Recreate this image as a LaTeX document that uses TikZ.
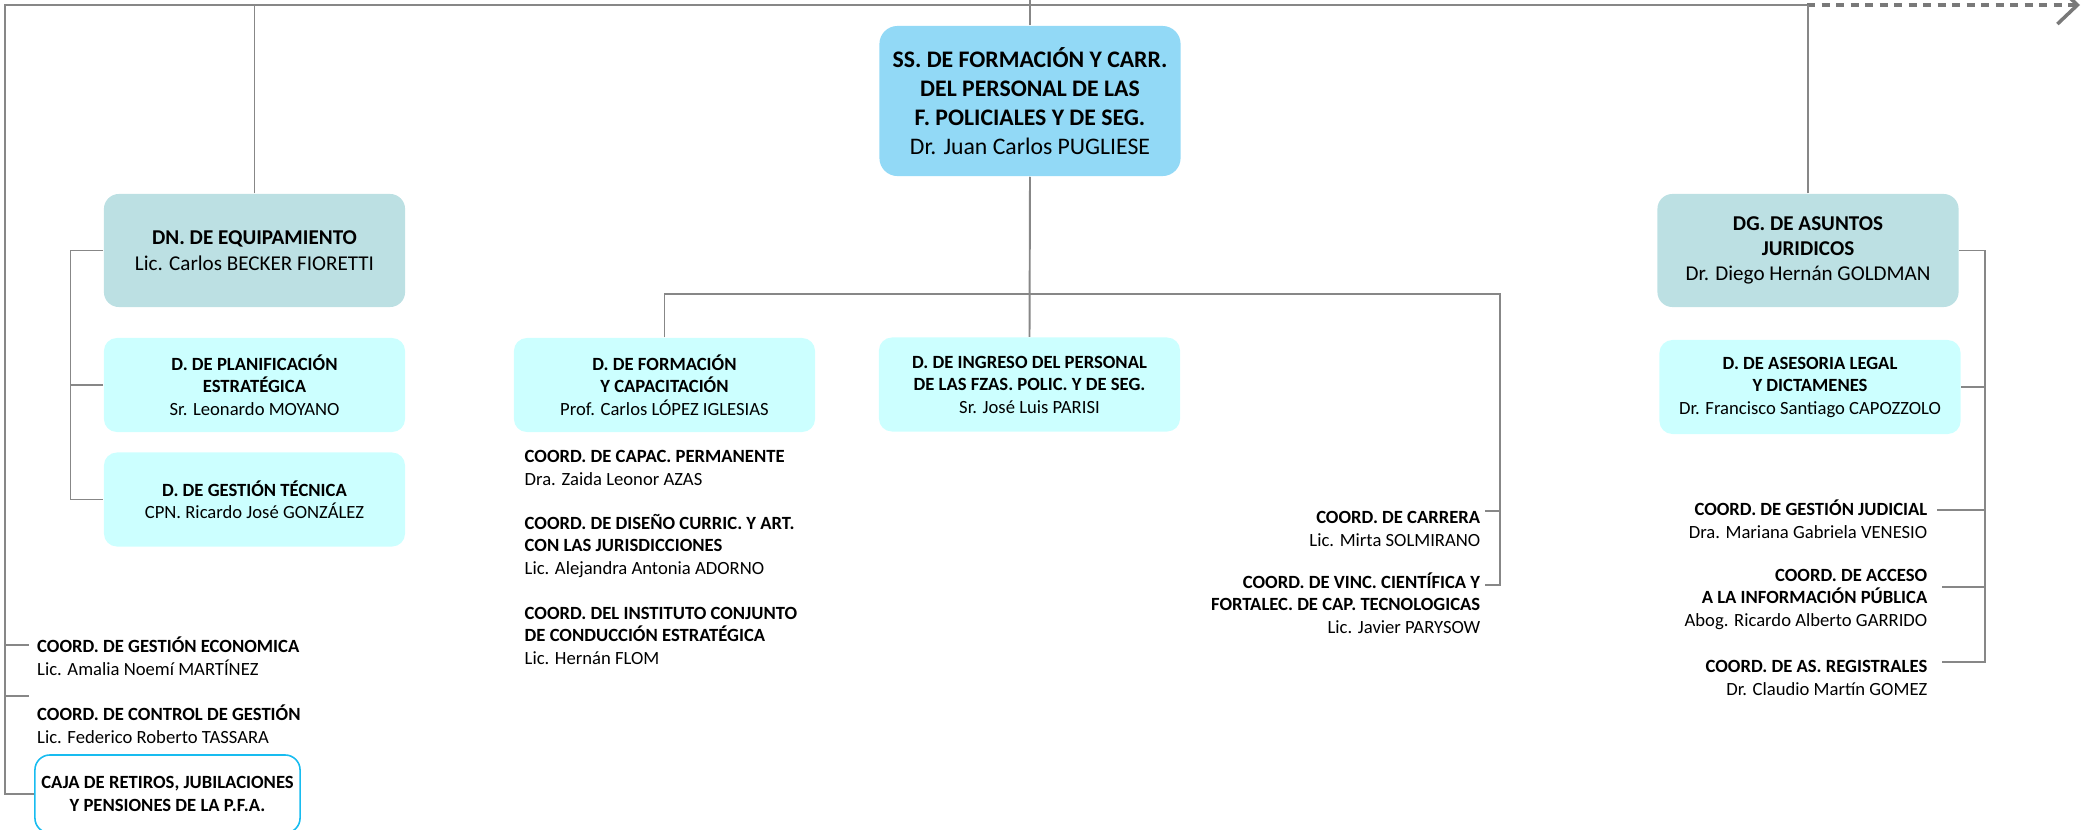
\documentclass[tikz,border=0pt]{standalone}
\usepackage{fontspec}
\setmainfont{Carlito}
\usepackage{tikz}
\usetikzlibrary{arrows.meta, calc}

\definecolor{sscol}{RGB}{146,217,246}
\definecolor{dircol}{RGB}{188,224,227}
\definecolor{subcol}{RGB}{204,255,255}
\definecolor{cajacol}{RGB}{24,188,240}
\definecolor{linecol}{RGB}{135,135,135}

\begin{document}
\begin{tikzpicture}[x=0.01cm, y=-0.01cm,
  ssbox/.style={rectangle, fill=sscol, rounded corners=0.18cm, align=center, minimum width=3.01cm, minimum height=1.5cm, font=\fontsize{6.75}{8.25}\selectfont},
  dirbox/.style={rectangle, fill=dircol, rounded corners=0.15cm, align=center, minimum width=3.01cm, minimum height=1.13cm, font=\fontsize{6}{7.2}\selectfont},
  subbox/.style={rectangle, fill=subcol, rounded corners=0.13cm, align=center, minimum width=3.01cm, minimum height=0.94cm, font=\fontsize{5.3}{6.4}\selectfont},
  cajabox/.style={rectangle, draw=cajacol, line width=0.45pt, rounded corners=0.15cm, align=center, minimum width=2.65cm, minimum height=0.78cm, inner xsep=0pt, font=\fontsize{5.3}{6.4}\selectfont},
  coordl/.style={inner sep=0pt, align=left, anchor=mid west, font=\fontsize{5.3}{6.4}\selectfont},
  coordr/.style={inner sep=0pt, align=right, anchor=mid east, font=\fontsize{5.3}{6.4}\selectfont},
  conn/.style={draw=linecol, line width=0.55pt},
  farr/.style={draw=linecol!90!black, line width=1pt, dash pattern=on 0.08cm off 0.065cm, -{Straight Barb[length=0.2cm, width=0.38cm]}},
]
\useasboundingbox (0,0) rectangle (2081,830);

\node[ssbox] (ss) at (1030,101) {\textbf{SS. DE FORMACIÓN Y CARR.}\\\textbf{DEL PERSONAL DE LAS}\\\textbf{F. POLICIALES Y DE SEG.}\\Dr. Juan Carlos PUGLIESE};

\node[dirbox] (dn) at (254.5,250.5) {\textbf{DN. DE EQUIPAMIENTO}\\Lic. Carlos BECKER FIORETTI};
\node[dirbox] (dg) at (1808,250.5) {\textbf{DG. DE ASUNTOS}\\\textbf{JURIDICOS}\\Dr. Diego Hernán GOLDMAN};

\node[subbox] (plan) at (254.5,385) {\textbf{D. DE PLANIFICACIÓN}\\\textbf{ESTRATÉGICA}\\Sr. Leonardo MOYANO};
\node[subbox] (gtec) at (254.5,499.5) {\textbf{D. DE GESTIÓN TÉCNICA}\\CPN. Ricardo José GONZÁLEZ};
\node[subbox] (form) at (664.5,385) {\textbf{D. DE FORMACIÓN}\\\textbf{Y CAPACITACIÓN}\\Prof. Carlos LÓPEZ IGLESIAS};
\node[subbox] (ingr) at (1029.5,384.5) {\textbf{D. DE INGRESO DEL PERSONAL}\\\textbf{DE LAS FZAS. POLIC. Y DE SEG.}\\Sr. José Luis PARISI};
\node[subbox] (ases) at (1810,387) {\textbf{D. DE ASESORIA LEGAL}\\\textbf{Y DICTAMENES}\\Dr. Francisco Santiago CAPOZZOLO};
\node[cajabox] (caja) at (167.5,794) {\textbf{CAJA DE RETIROS, JUBILACIONES}\\\textbf{Y PENSIONES DE LA P.F.A.}};

\node[coordl] (econ) at (36.5,667) {\textbf{COORD. DE GESTIÓN ECONOMICA}\\Lic. Amalia Noemí MARTÍNEZ};
\node[coordl] (ctrl) at (36.5,735) {\textbf{COORD. DE CONTROL DE GESTIÓN}\\Lic. Federico Roberto TASSARA};
\node[coordl] (capac) at (524,477) {\textbf{COORD. DE CAPAC. PERMANENTE}\\Dra. Zaida Leonor AZAS};
\node[coordl] (disen) at (524,566) {\textbf{COORD. DE DISEÑO CURRIC. Y ART.}\\\textbf{CON LAS JURISDICCIONES}\\Lic. Alejandra Antonia ADORNO};
\node[coordl] (inst) at (524,656) {\textbf{COORD. DEL INSTITUTO CONJUNTO}\\\textbf{DE CONDUCCIÓN ESTRATÉGICA}\\Lic. Hernán FLOM};
\node[coordr] (carr) at (1481,538) {\textbf{COORD. DE CARRERA}\\Lic. Mirta SOLMIRANO};
\node[coordr] (vinc) at (1481,625) {\textbf{COORD. DE VINC. CIENTÍFICA Y}\\\textbf{FORTALEC. DE CAP. TECNOLOGICAS}\\Lic. Javier PARYSOW};
\node[coordr] (jud) at (1928,530) {\textbf{COORD. DE GESTIÓN JUDICIAL}\\Dra. Mariana Gabriela VENESIO};
\node[coordr] (acc) at (1928,618) {\textbf{COORD. DE ACCESO}\\\textbf{A LA INFORMACIÓN PÚBLICA}\\Abog. Ricardo Alberto GARRIDO};
\node[coordr] (reg) at (1928,687) {\textbf{COORD. DE AS. REGISTRALES}\\Dr. Claudio Martín GOMEZ};

\coordinate (edge) at (0,0);
\coordinate (lrail) at (5,5);
\coordinate (fork) at (1807,5);
\coordinate (far) at (2080,5);
\coordinate (dnrail) at (70.5,0);
\coordinate (midrail) at (1500,294);
\coordinate (dgrail) at (1985,0);

\draw[conn] (caja.west) -| (lrail) -- (fork);
\draw[farr] (fork) -- (far);
\draw[conn] (ss.north) -- (ss.north |- edge);
\draw[conn] (dn.north) -- (dn.north |- lrail);
\draw[conn] (dg.north) -- (dg.north |- lrail);
\draw[conn] (ss.south) -- (ingr.north);
\draw[conn] (form.north) |- (midrail) |- ($(vinc.mid east)+(4,-40)$);
\draw[conn] ($(carr.mid east)+(4,-27)$) -- ($(carr.mid east -| midrail)+(0,-27)$);

\draw[conn] (dn.west) -| (gtec.west -| dnrail) -- (gtec.west);
\draw[conn] (plan.west) -- (plan.west -| dnrail);
\draw[conn] ($(econ.mid west)+(-8,-22)$) -- ($(econ.mid west -| lrail)+(0,-22)$);
\draw[conn] ($(ctrl.mid west)+(-8,-39)$) -- ($(ctrl.mid west -| lrail)+(0,-39)$);

\draw[conn] (dg.east) -| ($(reg.mid east -| dgrail)+(0,-25)$) -- ($(reg.mid east)+(14,-25)$);
\draw[conn] (ases.east) -- (ases.east -| dgrail);
\draw[conn] ($(jud.mid east)+(9,-20)$) -- ($(jud.mid east -| dgrail)+(0,-20)$);
\draw[conn] ($(acc.mid east)+(14,-31)$) -- ($(acc.mid east -| dgrail)+(0,-31)$);
\end{tikzpicture}
\end{document}
